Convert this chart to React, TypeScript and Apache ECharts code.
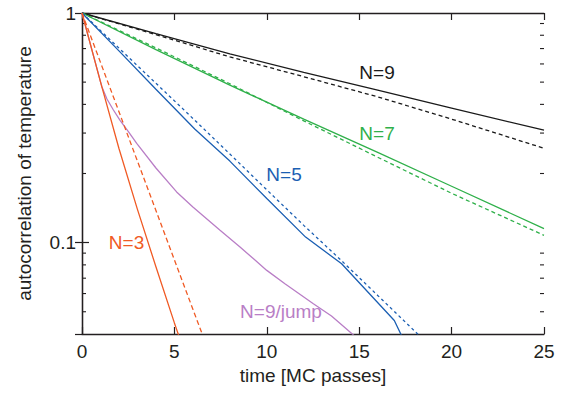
import React, { useEffect, useRef } from "react";
import * as echarts from "echarts";

// ---- data ----
const n9SolidT = [0, 4, 8, 12, 16, 20, 25];
const n9Solid = [1, 0.813, 0.664, 0.551, 0.461, 0.385, 0.309];
const n9DashT = [0, 4, 8, 12, 16, 20, 25];
const n9Dash = [1, 0.805, 0.644, 0.528, 0.4315, 0.345, 0.2576];

const n7SolidT = [0, 4, 8, 12, 16, 20, 25];
const n7Solid = [1, 0.693, 0.485, 0.345, 0.247, 0.176, 0.115];
const n7DashT = [0, 4, 8, 12, 16, 20, 25];
const n7Dash = [1, 0.705, 0.492, 0.339, 0.2355, 0.164, 0.1076];

const n5SolidT = [0, 2, 4, 6.1, 8, 10, 12.1, 14.05, 16.9, 17.5];
const n5Solid = [1, 0.684, 0.4656, 0.3126, 0.2265, 0.1556, 0.1057, 0.0809, 0.0458, 0.0363];
const n5DashT = [0, 2, 4, 6, 8, 10, 12, 14, 16, 18, 18.6];
const n5Dash = [1, 0.703, 0.4943, 0.3475, 0.2432, 0.1698, 0.1189, 0.0841, 0.0589, 0.0412, 0.037];

const n3SolidT = [0, 1, 2, 3, 4, 5, 5.3];
const n3Solid = [1, 0.501, 0.257, 0.1396, 0.0785, 0.0447, 0.038];
const n3DashT = [0, 2, 4, 6, 6.7];
const n3Dash = [1, 0.3715, 0.138, 0.0513, 0.0363];

const jumpT = [0, 0.5, 1.07, 1.35, 1.7, 2.06, 2.5, 2.96, 4, 5.12, 6, 7.47, 8.55, 10, 11, 12.52, 13.5, 14.8];
const jump = [1, 0.708, 0.479, 0.422, 0.378, 0.341, 0.305, 0.2704, 0.2113, 0.1663, 0.1429, 0.1132, 0.0957, 0.0757, 0.0661, 0.0542, 0.0479, 0.0389];

const minorTicks = [0.05, 0.06, 0.07, 0.08, 0.09, 0.2, 0.3, 0.4, 0.5, 0.6, 0.7, 0.8, 0.9];
const yLabels: Record<string, string> = { "1": "1", "0.1": "0.1" };

const curveLabels = [
  { text: "N=9", x: 377, y: 72.5, color: "#1a1a1a" },
  { text: "N=7", x: 377, y: 133, color: "#2fb04a" },
  { text: "N=5", x: 284, y: 174, color: "#1b5fb3" },
  { text: "N=3", x: 126.5, y: 242.5, color: "#f05a24" },
  { text: "N=9/jump", x: 281, y: 311.5, color: "#b97ec6" },
];

const FONT = "Liberation Sans, Arial, Helvetica, sans-serif";
const INK = "#231f20";

const zip = (t: number[], v: number[]) => t.map((x, i) => [x, v[i]]);

function lineSeries(name: string, t: number[], v: number[], color: string, dashed: boolean, dash: number[] = [4, 3]) {
  return {
    name,
    type: "line",
    data: zip(t, v),
    showSymbol: false,
    symbol: "none",
    smooth: false,
    clip: true,
    lineStyle: { color, width: 1.3, type: dashed ? dash : "solid" },
  };
}

export default function App() {
  const ref = useRef<HTMLDivElement>(null);
  useEffect(() => {
    if (!ref.current) return;
    const chart = echarts.init(ref.current, undefined, { renderer: "svg" });
    const axisLine = { show: true, lineStyle: { color: INK, width: 1.3 } };
    const logAxisBase = {
      type: "log",
      logBase: 10,
      min: 0.04,
      max: 1,
      axisLine,
      splitLine: { show: false },
      axisTick: { show: true, inside: true, length: 7, lineStyle: { color: INK, width: 1.2 } },
    };
    const xAxisBase = {
      type: "value",
      min: 0,
      max: 25,
      interval: 5,
      axisLine,
      splitLine: { show: false },
      axisTick: { show: true, inside: true, length: 7, lineStyle: { color: INK, width: 1.2 } },
    };
    chart.setOption({
      animation: false,
      grid: { left: 82, right: 20, top: 13, bottom: 61, containLabel: false },
      xAxis: [
        {
          ...xAxisBase,
          position: "bottom",
          name: "time [MC passes]",
          nameLocation: "middle",
          nameGap: 28,
          nameTextStyle: { fontFamily: FONT, fontSize: 19, color: INK },
          axisLabel: { fontFamily: FONT, fontSize: 19, color: INK, margin: 8 },
        },
        {
          ...xAxisBase,
          position: "top",
          axisLabel: { show: false },
        },
      ],
      yAxis: [
        {
          ...logAxisBase,
          position: "left",
          name: "autocorrelation of temperature",
          nameLocation: "middle",
          nameGap: 48,
          nameRotate: 90,
          nameTextStyle: { fontFamily: FONT, fontSize: 19, color: INK },
          axisLabel: {
            fontFamily: FONT,
            fontSize: 19,
            color: INK,
            margin: 6,
            showMinLabel: false,
            formatter: (v: number) => {
              if (Math.abs(v - 1) < 1e-6) return yLabels["1"];
              if (Math.abs(v - 0.1) < 1e-6) return yLabels["0.1"];
              return "";
            },
          },
        },
        {
          ...logAxisBase,
          position: "right",
          axisLabel: { show: false },
        },
      ],
      series: [
        {
          type: "custom",
          xAxisIndex: 0,
          yAxisIndex: 0,
          clip: false,
          silent: true,
          data: minorTicks.map((v) => [0, v]),
          renderItem: (params: any, api: any) => {
            const v = api.value(1);
            const left = api.coord([0, v]);
            const right = api.coord([25, v]);
            const style = { stroke: INK, lineWidth: 1.1 };
            return {
              type: "group",
              children: [
                { type: "line", shape: { x1: left[0], y1: left[1], x2: left[0] + 4, y2: left[1] }, style },
                { type: "line", shape: { x1: right[0] - 4, y1: right[1], x2: right[0], y2: right[1] }, style },
              ],
            };
          },
        },
        lineSeries("N=9", n9SolidT, n9Solid, "#1a1a1a", false),
        lineSeries("N=9 dashed", n9DashT, n9Dash, "#1a1a1a", true, [4, 3]),
        lineSeries("N=7", n7SolidT, n7Solid, "#2fb04a", false),
        lineSeries("N=7 dashed", n7DashT, n7Dash, "#2fb04a", true, [4, 3]),
        lineSeries("N=5", n5SolidT, n5Solid, "#1b5fb3", false),
        lineSeries("N=5 dashed", n5DashT, n5Dash, "#1b5fb3", true, [3, 3]),
        lineSeries("N=9/jump", jumpT, jump, "#b97ec6", false),
        lineSeries("N=3", n3SolidT, n3Solid, "#f05a24", false),
        lineSeries("N=3 dashed", n3DashT, n3Dash, "#f05a24", true, [5, 3]),
      ],
      graphic: curveLabels.map((l) => ({
        type: "text",
        x: l.x,
        y: l.y,
        style: {
          text: l.text,
          fill: l.color,
          fontFamily: FONT,
          fontSize: 19,
          textAlign: "center",
          textVerticalAlign: "middle",
        },
      })),
    });
    return () => chart.dispose();
  }, []);
  return (
    <div
      ref={ref}
      style={{ position: "fixed", left: 0, top: 0, width: 564, height: 395, background: "#fff" }}
    />
  );
}
